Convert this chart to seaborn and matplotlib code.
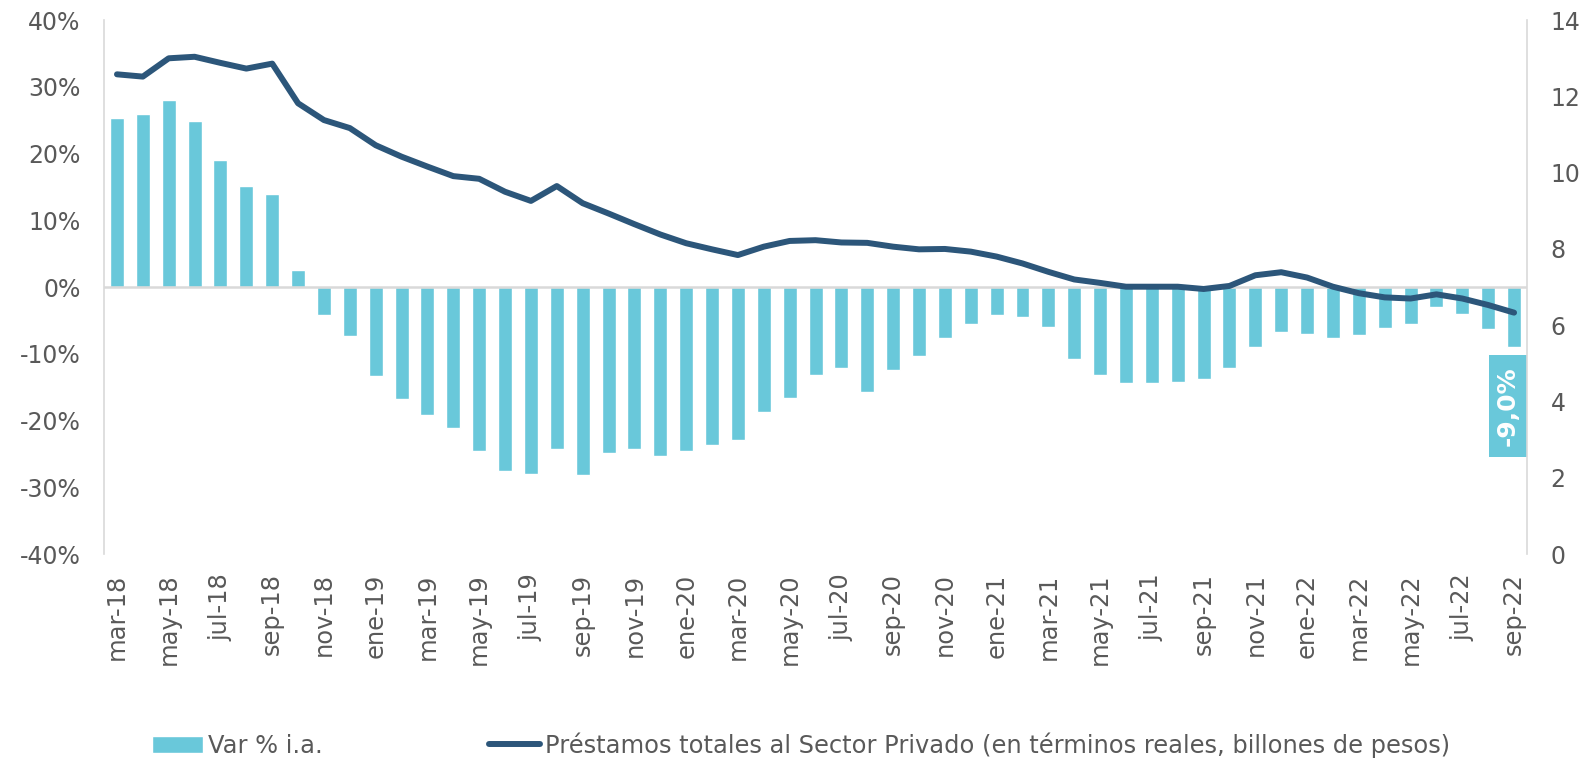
import numpy as np
import pandas as pd
import matplotlib
matplotlib.use("Agg")
import matplotlib.pyplot as plt
from matplotlib.patches import Rectangle
import seaborn as sns

# ---- data ----
month_names = ["ene", "feb", "mar", "abr", "may", "jun", "jul", "ago", "sep", "oct", "nov", "dic"]
start_year, start_month = 2018, 3  # mar-18
n_months = 55  # mar-18 .. sep-22

var_ia = [25.3, 25.9, 28.1, 24.9, 19.0, 15.1, 14.0, 2.5, -4.2, -7.4,
          -13.3, -16.7, -19.1, -21.1, -24.5, -27.6, -28.0, -24.2, -28.2, -24.9,
          -24.2, -25.3, -24.6, -23.7, -22.9, -18.7, -16.6, -13.2, -12.1, -15.7,
          -12.4, -10.3, -7.6, -5.6, -4.2, -4.5, -6.0, -10.8, -13.1, -14.4,
          -14.3, -14.2, -13.8, -12.2, -9.0, -6.8, -7.1, -7.7, -7.2, -6.2,
          -5.5, -3.0, -4.1, -6.3, -9.0]

prestamos = [12.58, 12.52, 13.00, 13.04, 12.88, 12.73, 12.86, 11.82, 11.38, 11.17,
             10.72, 10.42, 10.16, 9.91, 9.84, 9.50, 9.26, 9.65, 9.20, 8.93,
             8.65, 8.38, 8.15, 7.99, 7.84, 8.06, 8.21, 8.23, 8.17, 8.16,
             8.06, 7.99, 8.00, 7.93, 7.80, 7.62, 7.40, 7.20, 7.11, 7.01,
             7.01, 7.01, 6.95, 7.03, 7.31, 7.39, 7.25, 7.01, 6.84, 6.73,
             6.70, 6.81, 6.70, 6.53, 6.33]

labels = []
for i in range(n_months):
    m = (start_month - 1 + i) % 12
    y = start_year + (start_month - 1 + i) // 12
    labels.append(f"{month_names[m]}-{y % 100:02d}")

last_label = "-9,0%"

bar_color = "#69C8DA"
line_color = "#2C567A"
text_color = "#595959"
grid_color = "#D9D9D9"

df = pd.DataFrame({"mes": labels, "var": var_ia, "prest": prestamos, "idx": np.arange(n_months)})

sns.set_style("white")
plt.rcParams["font.family"] = ["DejaVu Sans"]
plt.rcParams["text.color"] = text_color

FS = 17

fig = plt.figure(figsize=(15.86, 7.61), dpi=100)
ax = fig.add_axes([0.0656, 0.272, 0.8972, 0.7015])

sns.barplot(data=df, x="mes", y="var", order=labels, color=bar_color,
            saturation=1, width=0.54, ax=ax, label="Var % i.a.")
ax.set_xlim(-0.5, n_months - 0.5)
ax.set_ylim(-40, 40)
ax.set_yticks(np.arange(-40, 41, 10))
ax.set_yticklabels([f"{v}%" for v in range(-40, 41, 10)])
ax.set_xticks(np.arange(0, n_months, 2))
ax.set_xticklabels(labels[::2], rotation=90)
ax.set_xlabel("")
ax.set_ylabel("")
ax.axhline(0, color=grid_color, lw=1.8, zorder=1)
ax.tick_params(axis="both", length=0, labelsize=FS, colors=text_color)
ax.tick_params(axis="x", pad=14, labelsize=17.4)
ax.tick_params(axis="y", pad=17)
for s in ["top", "bottom", "right"]:
    ax.spines[s].set_visible(False)
ax.spines["left"].set_color(grid_color)
ax.spines["left"].set_linewidth(1.2)

ax2 = ax.twinx()
sns.lineplot(data=df, x="idx", y="prest", color=line_color, lw=4.3, ax=ax2,
             label="Préstamos totales al Sector Privado (en términos reales, billones de pesos)")
for ln in ax2.get_lines():
    ln.set_solid_capstyle("round")
    ln.set_solid_joinstyle("round")
ax2.set_xlim(-0.5, n_months - 0.5)
ax2.set_ylim(0, 14)
ax2.set_yticks(np.arange(0, 15, 2))
ax2.set_ylabel("")
ax2.set_xlabel("")
ax2.tick_params(axis="y", length=0, labelsize=FS, colors=text_color, pad=17)
for s in ["top", "bottom", "left"]:
    ax2.spines[s].set_visible(False)
ax2.spines["right"].set_color(grid_color)
ax2.spines["right"].set_linewidth(1.2)

# annotation of last value
li = n_months - 1
lv = var_ia[-1]
box_top = lv - 1.2
box_bot = lv - 16.4
ax.add_patch(Rectangle((li - 0.97, box_bot), 1.47, box_top - box_bot,
                       facecolor=bar_color, edgecolor="none", zorder=5, clip_on=False))
ax.text(li - 0.23, (box_top + box_bot) / 2, last_label, rotation=90, color="white",
        fontsize=18, fontweight="bold", ha="center", va="center", zorder=6)

# legend
h1, l1 = ax.get_legend_handles_labels()
h2, l2 = ax2.get_legend_handles_labels()
if ax.get_legend():
    ax.get_legend().remove()
if ax2.get_legend():
    ax2.get_legend().remove()
leg = fig.legend(h1 + h2, l1 + l2, loc="center", bbox_to_anchor=(0.505, 0.021), ncol=2,
                 frameon=False, fontsize=17.4, handlelength=2.1, handletextpad=0.2,
                 columnspacing=6.9, labelcolor=text_color)

fig.savefig("out.png", dpi=100)
